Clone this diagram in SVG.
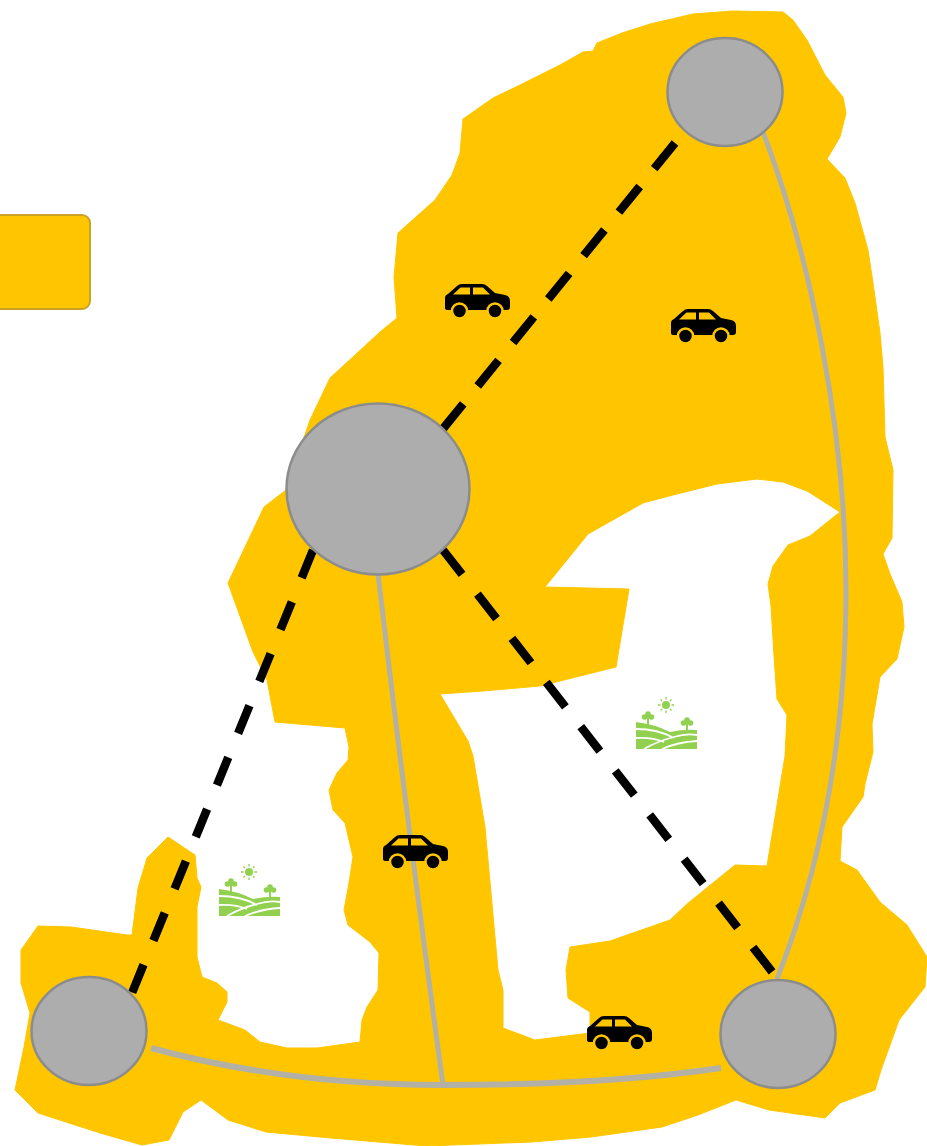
<svg xmlns="http://www.w3.org/2000/svg" width="927" height="1146" viewBox="0 0 927 1146">
<style>
.city{fill:#adadad;stroke:#8c8c8c;stroke-width:2.500}
.road{fill:none;stroke:#b3b0a6;stroke-width:5}
.wide{stroke-width:6}
.rail{fill:none;stroke:#000;stroke-width:8.500}
.g{fill:#92d050}
.gl{fill:none;stroke:#fff;stroke-width:1.800}
</style>
<defs>
<g id="car"><path d="M0 24 V14 Q0 11 3 10 L12 2 Q14 0 17 0 H37 Q40 0 42 2 L50 9 L60 11 Q65 12 65 17 V23 Q65 26 62 26 H3 Q0 26 0 24 Z" fill="#000"/><path d="M8 10.500 L15.500 3.500 H25 V10.500 Z M28 3.500 H38 L45 10.500 H28 Z" fill="#ffc600"/><circle cx="14.500" cy="27" r="7.500" fill="#000" stroke="#ffc600" stroke-width="2.500"/><circle cx="50" cy="27" r="7.500" fill="#000" stroke="#ffc600" stroke-width="2.500"/></g>
<g id="field"><circle cx="30" cy="8" r="4" class="g"/><path d="M30 0V2.500M30 13.500V16M22 8H24.500M35.500 8H38M24.500 2.500L26 4M34 12L35.500 13.500M35.500 2.500L34 4M26 12L24.500 13.500" stroke="#92d050" stroke-width="1.300" fill="none"/><circle cx="12" cy="17" r="2.800" class="g"/><circle cx="8.500" cy="20" r="2.800" class="g"/><circle cx="15.500" cy="20" r="2.800" class="g"/><rect x="11" y="18" width="2" height="10" class="g"/><circle cx="51" cy="23" r="2.800" class="g"/><circle cx="47.500" cy="26" r="2.800" class="g"/><circle cx="54.500" cy="26" r="2.800" class="g"/><rect x="50" y="24" width="2" height="10" class="g"/><path d="M0 25 Q18 27 34 35 Q48 32 61 33 V52 H0 Z" class="g"/><path d="M0 32 Q22 32 38 41 M0 41 Q16 40 28 45 M8 52 Q22 44 38 40 Q50 36 61 38 M26 52 Q42 45 61 44" class="gl"/></g>
</defs>
<path id="region" fill="#ffc600" fill-rule="evenodd" stroke="#ffc600" stroke-width="1" stroke-linejoin="round" d="M783 12 L793 20 L807 40 L825 75 L843 97 L846 113 L840 137 L827 159 L845 178 L855 203 L868 250 L873 283 L880 333 L883 367 L885 437 L893 470 L892 538 L883 554 L890 574 L902 602 L904 627 L897 659 L880 677 L872 724 L873 752 L865 784 L863 797 L842 827 L840 861 L857 870 L880 902 L907 925 L927 957 L925 987 L899 1020 L881 1070 L875 1090 L840 1103 L825 1118 L769 1110 L736 1100 L698 1115 L662 1127 L591 1137 L532 1142 L426 1146 L331 1138 L266 1132 L228 1120 L201 1100 L183 1112 L169 1140 L142 1145 L100 1133 L38 1113 L15 1090 L24 1047 L30 1013 L21 983 L21 950 L38 926 L71 927 L127 935 L132 935 L138 888 L147 858 L168 837 L195 855 L197 878 L201 887 L197 907 L197 957 L202 977 L217 983 L227 992 L227 1002 L218 1020 L245 1030 L260 1042 L287 1048 L317 1048 L360 1042 L362 1020 L367 1007 L378 990 L379 953 L370 942 L348 925 L344 910 L349 883 L353 857 L345 823 L333 810 L329 790 L337 773 L348 760 L349 747 L345 728 L275 722 L267 680 L253 652 L228 583 L264 507 L286 490 L310 420 L330 378 L380 332 L397 318 L394 277 L398 233 L435 200 L452 175 L460 153 L463 119 L493 98 L520 85 L560 65 L583 52 L593 51 L597 43 L622 33 L650 24 L693 14 L733 11 Z M840 512 L807 491 L783 482 L757 479 L717 484 L673 495 L643 503 L588 534 L545 587 L629 589 L616 667 L540 686 L483 691 L440 694 L468 741 L473 756 L485 827 L498 970 L503 990 L503 1028 L535 1040 L590 1033 L590 1012 L582 1007 L568 998 L566 970 L570 947 L610 941 L670 920 L687 904 L735 865 L767 866 L785 756 L787 715 L777 699 L774 656 L771 606 L768 584 L773 566 L788 545 L810 536 Z"/>
<rect id="legend" x="-12" y="215" width="102" height="94" rx="8" fill="#ffc600" stroke="#c9a227" stroke-width="2"/>
<g id="connectors">
<path class="road" d="M763 132 C810 255 846 430 846 590 C846 740 820 870 777 979"/>
<path class="road" d="M378 574 Q408 830 443 1085"/>
<path class="road wide" d="M151 1048 C250 1075 350 1085 443 1085 C550 1085 640 1080 721 1068"/>
<path class="rail" stroke-dasharray="33 23" d="M675 143 L442 430"/>
<path class="rail" stroke-dasharray="31 25" d="M443 550 L773 973"/>
<path class="rail" stroke-dasharray="30 26" d="M313 550 L132 993"/>
</g>
<g id="node-top"><ellipse class="city" cx="725" cy="92" rx="57.500" ry="54"/></g>
<g id="node-center"><ellipse class="city" cx="378" cy="489" rx="91.500" ry="85.500"/></g>
<g id="node-left"><ellipse class="city" cx="89" cy="1031" rx="57.500" ry="54"/></g>
<g id="node-right"><ellipse class="city" cx="778" cy="1034" rx="57.500" ry="54"/></g>
<use id="car-1" href="#car" x="445" y="284"/>
<use id="car-2" href="#car" x="671" y="309"/>
<use id="car-3" href="#car" x="383" y="835"/>
<use id="car-4" href="#car" x="587" y="1016"/>
<use id="field-1" href="#field" x="636" y="697"/>
<use id="field-2" href="#field" x="219" y="864"/>
</svg>
